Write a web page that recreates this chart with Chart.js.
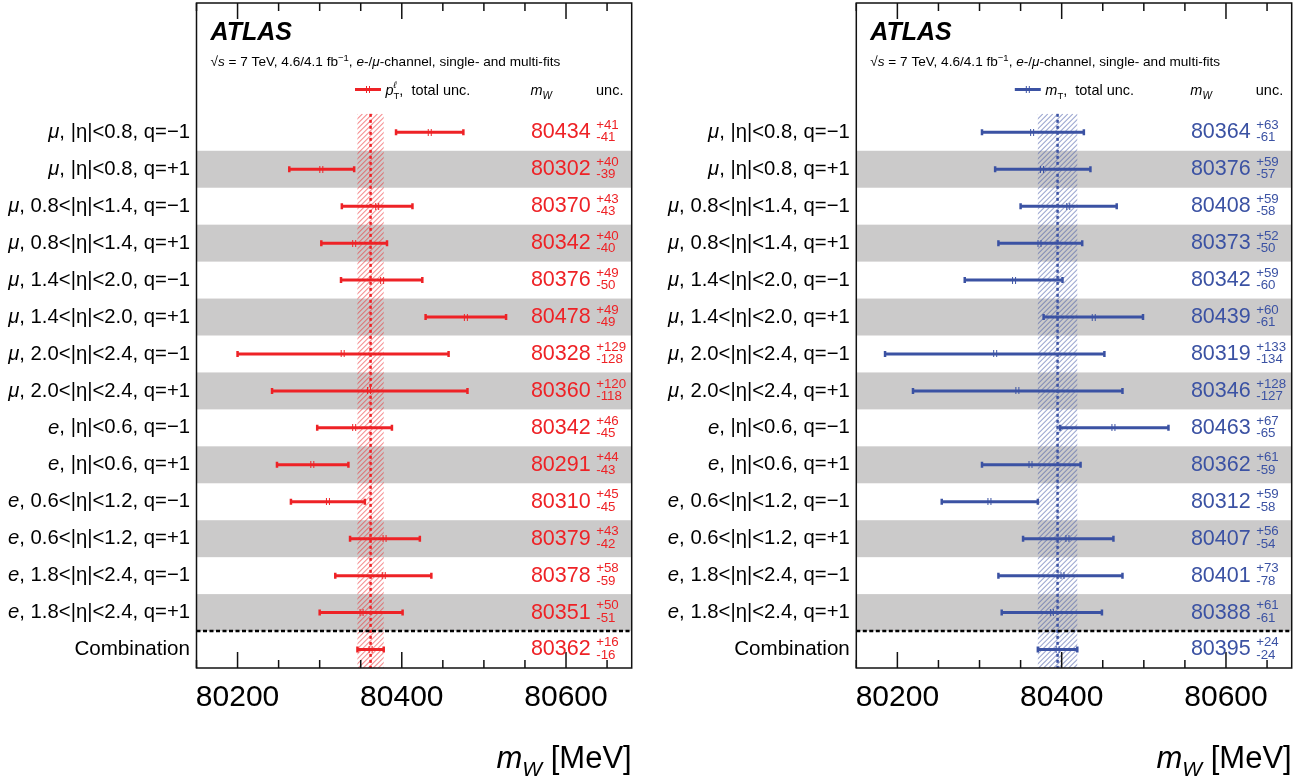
<!DOCTYPE html>
<html>
<head>
<meta charset="utf-8">
<title>ATLAS mW single- and multi-fits</title>
<script src="https://cdn.jsdelivr.net/npm/chart.js@4.4.1/dist/chart.umd.min.js"></script>
<style>
  body { margin: 0; background: #fff; }
  .panel { position: absolute; top: 0; width: 655px; height: 784px; }
</style>
</head>
<body>
<div class="panel" style="left:0"><canvas id="ptChart" width="655" height="784"></canvas></div>
<div class="panel" style="left:655px"><canvas id="mtChart" width="655" height="784"></canvas></div>
<script>
// categories: channel symbol (italic) + rest of the label
const channels = ['μ', 'μ', 'μ', 'μ', 'μ', 'μ', 'μ', 'μ', 'e', 'e', 'e', 'e', 'e', 'e'];
const categories = [
  ', |η|<0.8, q=−1', ', |η|<0.8, q=+1',
  ', 0.8<|η|<1.4, q=−1', ', 0.8<|η|<1.4, q=+1',
  ', 1.4<|η|<2.0, q=−1', ', 1.4<|η|<2.0, q=+1',
  ', 2.0<|η|<2.4, q=−1', ', 2.0<|η|<2.4, q=+1',
  ', |η|<0.6, q=−1', ', |η|<0.6, q=+1',
  ', 0.6<|η|<1.2, q=−1', ', 0.6<|η|<1.2, q=+1',
  ', 1.8<|η|<2.4, q=−1', ', 1.8<|η|<2.4, q=+1'
];
const combLabel = 'Combination';

// pT fits
const ptValues = [80434, 80302, 80370, 80342, 80376, 80478, 80328, 80360, 80342, 80291, 80310, 80379, 80378, 80351];
const ptUp     = [41, 40, 43, 40, 49, 49, 129, 120, 46, 44, 45, 43, 58, 50];
const ptDown   = [41, 39, 43, 40, 50, 49, 128, 118, 45, 43, 45, 42, 59, 51];
const ptComb = [80362, 16, 16];

// mT fits
const mtValues = [80364, 80376, 80408, 80373, 80342, 80439, 80319, 80346, 80463, 80362, 80312, 80407, 80401, 80388];
const mtUp     = [63, 59, 59, 52, 59, 60, 133, 128, 67, 61, 59, 56, 73, 61];
const mtDown   = [61, 57, 58, 50, 60, 61, 134, 127, 65, 59, 58, 54, 78, 61];
const mtComb = [80395, 24, 24];

const xTicks = [80200, 80400, 80600];

const FONT = "'Liberation Sans', Arial, Helvetica, sans-serif";
const RED = '#ee2226';
const BLUE = '#3b52a3';
const BAND = '#cbcaca';

function fontOf(p) {
  return (p.italic ? 'italic ' : '') + (p.bold ? 'bold ' : '') + p.size + 'px ' + FONT;
}

// draw text made of several styled pieces
function drawRich(ctx, parts, x, y, align) {
  let w = 0;
  parts.forEach(p => {
    ctx.font = fontOf(p);
    p.w = ctx.measureText(p.t).width;
    if (!p.noAdv) w += p.w;
  });
  let cx = align === 'right' ? x - w : x;
  parts.forEach(p => {
    ctx.font = fontOf(p);
    ctx.fillText(p.t, cx, y + (p.dy || 0));
    if (!p.noAdv) cx += p.w;
  });
}

function markImage(color) {
  const c = document.createElement('canvas');
  c.width = 6; c.height = 7;
  const g = c.getContext('2d');
  g.fillStyle = color;
  g.fillRect(1, 0, 1, 7);
  g.fillRect(4, 0, 1, 7);
  return c;
}

function buildPanel(id, cfg) {
  const { values, up, down, comb, color, hatch, legend, padL, padR } = cfg;
  const centers = values.concat([comb[0]]);
  const ups = up.concat([comb[1]]);
  const downs = down.concat([comb[2]]);
  const n = values.length;

  const bars = centers.map((v, i) => ({
    type: 'line',
    data: [{ x: v - downs[i], y: i }, { x: v + ups[i], y: i }],
    borderColor: color,
    borderWidth: 3,
    pointRadius: 0
  }));
  const caps = {
    type: 'scatter',
    data: centers.flatMap((v, i) => [{ x: v - downs[i], y: i }, { x: v + ups[i], y: i }]),
    pointStyle: 'line',
    rotation: 90,
    pointRadius: 3,
    borderWidth: 2.5,
    borderColor: color
  };
  const marks = {
    type: 'scatter',
    data: centers.map((v, i) => ({ x: v, y: i })),
    pointStyle: markImage(color),
    pointRadius: 4
  };

  const decor = {
    id: 'decor',
    beforeDatasetsDraw(chart) {
      const { ctx, chartArea: a, scales: { x, y } } = chart;
      ctx.save();
      // alternating grey bands
      ctx.fillStyle = BAND;
      for (let i = 1; i < n; i += 2) {
        const t = y.getPixelForValue(i - 0.5), b = y.getPixelForValue(i + 0.5);
        ctx.fillRect(a.left, t, a.right - a.left, b - t);
      }
      // hatched combination band
      const x0 = x.getPixelForValue(comb[0] - comb[2]);
      const x1 = x.getPixelForValue(comb[0] + comb[1]);
      const yt = y.getPixelForValue(-0.5), yb = a.bottom;
      ctx.save();
      ctx.beginPath();
      ctx.rect(x0, yt, x1 - x0, yb - yt);
      ctx.clip();
      ctx.strokeStyle = hatch;
      ctx.lineWidth = 1.1;
      ctx.beginPath();
      const h = yb - yt;
      for (let s = x0 - h; s < x1; s += 5) {
        ctx.moveTo(s, yb);
        ctx.lineTo(s + h, yt);
      }
      ctx.stroke();
      ctx.restore();
      // combination central line
      const xc = x.getPixelForValue(comb[0]);
      ctx.strokeStyle = color;
      ctx.lineWidth = 2.5;
      ctx.setLineDash([3, 3]);
      ctx.beginPath();
      ctx.moveTo(xc, yt);
      ctx.lineTo(xc, yb);
      ctx.stroke();
      // separator before combination
      const ys = y.getPixelForValue(n - 0.5);
      ctx.strokeStyle = '#000';
      ctx.setLineDash([4, 2.5]);
      ctx.beginPath();
      ctx.moveTo(a.left, ys);
      ctx.lineTo(a.right, ys);
      ctx.stroke();
      ctx.restore();
    },
    afterDraw(chart) {
      const { ctx, chartArea: a, scales: { x, y } } = chart;
      ctx.save();
      // frame
      ctx.strokeStyle = '#111';
      ctx.lineWidth = 1.5;
      ctx.strokeRect(a.left, a.top, a.right - a.left, a.bottom - a.top);
      // inner tick marks
      ctx.beginPath();
      for (let v = 80150; v <= 80680; v += 50) {
        const px = x.getPixelForValue(v);
        const len = v % 200 === 0 ? 16 : 8;
        ctx.moveTo(px, a.bottom); ctx.lineTo(px, a.bottom - len);
        ctx.moveTo(px, a.top); ctx.lineTo(px, a.top + len);
      }
      ctx.stroke();

      ctx.textBaseline = 'alphabetic';
      ctx.fillStyle = '#000';
      const L = a.left;
      // ATLAS header
      drawRich(ctx, [{ t: 'ATLAS', size: 25, bold: true, italic: true }], L + 14, 40, 'left');
      drawRich(ctx, [
        { t: '√', size: 13.6 }, { t: 's', size: 13.6, italic: true },
        { t: ' = 7 TeV, 4.6/4.1 fb', size: 13.6 }, { t: '−1', size: 9.5, dy: -5 },
        { t: ', ', size: 13.6 }, { t: 'e', size: 13.6, italic: true }, { t: '-/', size: 13.6 },
        { t: 'μ', size: 13.6, italic: true }, { t: '-channel, single- and multi-fits', size: 13.6 }
      ], L + 14, 66, 'left');
      // legend
      const ly = 89.5;
      ctx.strokeStyle = color;
      ctx.lineWidth = 3;
      ctx.beginPath();
      ctx.moveTo(L + 158.5, ly); ctx.lineTo(L + 184.5, ly);
      ctx.stroke();
      ctx.drawImage(markImage(color), L + 168.5, ly - 3.5);
      ctx.fillStyle = '#000';
      drawRich(ctx, legend, L + 189, ly + 5, 'left');
      drawRich(ctx, [{ t: 'm', size: 14.5, italic: true }, { t: 'W', size: 10, italic: true, dy: 4 }], L + 334, ly + 5, 'left');
      drawRich(ctx, [{ t: 'unc.', size: 14.5 }], L + 399.5, ly + 5, 'left');

      // row labels and values
      centers.forEach((v, i) => {
        const py = y.getPixelForValue(i);
        ctx.fillStyle = '#000';
        ctx.textBaseline = 'middle';
        if (i < n) {
          drawRich(ctx, [{ t: channels[i], size: 20.3, italic: true }, { t: categories[i], size: 20.3 }], L - 6.5, py, 'right');
        } else {
          drawRich(ctx, [{ t: combLabel, size: 20.6 }], L - 6.5, py, 'right');
        }
        ctx.fillStyle = color;
        drawRich(ctx, [{ t: String(v), size: 21.5 }], a.right - 41, py, 'right');
        drawRich(ctx, [{ t: '+' + ups[i], size: 13.3 }], a.right - 35.5, py - 7, 'left');
        drawRich(ctx, [{ t: '-' + downs[i], size: 13.3 }], a.right - 35.5, py + 5.5, 'left');
      });

      // axis title
      ctx.fillStyle = '#000';
      ctx.textBaseline = 'alphabetic';
      drawRich(ctx, [
        { t: 'm', size: 31, italic: true }, { t: 'W', size: 21, italic: true, dy: 8 },
        { t: ' [MeV]', size: 31 }
      ], a.right, 768, 'right');
      ctx.restore();
    }
  };

  return new Chart(document.getElementById(id), {
    type: 'scatter',
    data: { datasets: bars.concat([caps, marks]) },
    options: {
      responsive: false,
      animation: false,
      events: [],
      layout: { autoPadding: false, padding: { top: 3, left: padL, right: padR, bottom: 0 } },
      plugins: { legend: { display: false }, tooltip: { enabled: false } },
      scales: {
        x: {
          type: 'linear',
          min: 80150,
          max: 80680,
          grid: { display: false, drawTicks: false },
          border: { display: false },
          ticks: {
            stepSize: 50,
            autoSkip: false,
            maxRotation: 0,
            padding: 12,
            color: '#000',
            font: { family: FONT, size: 30 },
            callback: v => (xTicks.includes(v) ? String(v) : '')
          },
          afterFit: s => { s.height = 116; }
        },
        y: {
          type: 'linear', min: -3.5, max: 14.5, reverse: true, display: false,
          ticks: { display: false }
        }
      }
    },
    plugins: [decor]
  });
}

buildPanel('ptChart', {
  values: ptValues, up: ptUp, down: ptDown, comb: ptComb,
  color: RED, hatch: 'rgba(238,34,38,0.5)',
  legend: [
    { t: 'p', size: 14.5, italic: true },
    { t: 'ℓ', size: 9.5, italic: true, dy: -7, noAdv: true },
    { t: 'T', size: 9.5, dy: 4 },
    { t: ',  total unc.', size: 14.5 }
  ],
  padL: 196.5, padR: 23.3
});

buildPanel('mtChart', {
  values: mtValues, up: mtUp, down: mtDown, comb: mtComb,
  color: BLUE, hatch: 'rgba(59,82,163,0.5)',
  legend: [
    { t: 'm', size: 14.5, italic: true },
    { t: 'T', size: 9.5, dy: 4 },
    { t: ',  total unc.', size: 14.5 }
  ],
  padL: 201.3, padR: 18.3
});
</script>
</body>
</html>
